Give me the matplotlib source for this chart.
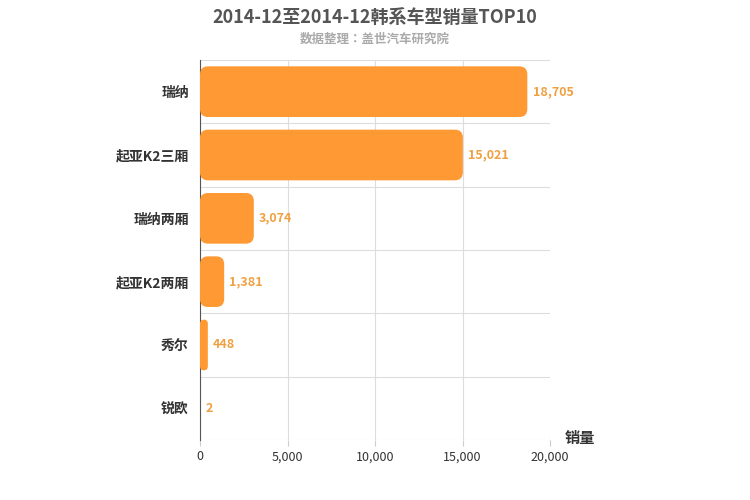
import matplotlib.pyplot as plt
from matplotlib.patches import FancyBboxPatch

plt.rcParams['font.family'] = ['Noto Sans CJK SC', 'Noto Sans CJK JP', 'Noto Sans CJK TC',
                               'Noto Sans CJK KR', 'DejaVu Sans']

models = ['瑞纳', '起亚K2三厢', '瑞纳两厢', '起亚K2两厢', '秀尔', '锐欧']
sales = [18705, 15021, 3074, 1381, 448, 2]
xticks = [0, 5000, 10000, 15000, 20000]

fig = plt.figure(figsize=(7.5, 5), dpi=100)
ax = fig.add_axes([200 / 750, 60 / 500, 350 / 750, 380 / 500])
ax.set_xlim(0, 20000)
ax.set_ylim(len(models) - 0.5, -0.5)

# data units per pixel, used to keep the corners round
ux = 20000 / 350
uy = len(models) / 380
h = 0.8
for i, (name, v) in enumerate(zip(models, sales)):
    r = min(8 * ux, v / 2)
    p = FancyBboxPatch((0, i - h / 2), v, h,
                       boxstyle=f'round,pad=0,rounding_size={r}',
                       mutation_aspect=uy / ux,
                       fc='#FF9933', ec='none', zorder=3)
    ax.add_patch(p)
    ax.text(v + 300, i, f'{v:,}', va='center', ha='left',
            fontsize=9, color='#F0A040', fontweight='bold')

ax.set_yticks(range(len(models)))
ax.set_yticklabels(models, fontsize=10, fontweight='bold', color='#333333')
ax.set_xticks(xticks)
ax.set_xticklabels([f'{t:,}' for t in xticks], fontsize=9, color='#333333')
ax.tick_params(axis='y', length=0, pad=8)
ax.tick_params(axis='x', length=4, color='#cccccc')
for y in [i + 0.5 for i in range(-1, len(models))]:
    ax.axhline(y, color='#dddddd', lw=0.8, zorder=0)
ax.grid(axis='x', color='#dddddd', lw=0.8, zorder=0)
for s in ['top', 'right', 'bottom']:
    ax.spines[s].set_visible(False)
ax.spines['left'].set_color('#555555')

fig.text(0.5, 0.965, '2014-12至2014-12韩系车型销量TOP10', ha='center', va='center',
         fontsize=13, fontweight='bold', color='#555555')
fig.text(0.5, 0.922, '数据整理：盖世汽车研究院', ha='center', va='center',
         fontsize=9, color='#aaaaaa', fontweight='bold')
fig.text(565 / 750, 1 - 438 / 500, '销量', ha='left', va='center',
         fontsize=11, fontweight='bold', color='#333333')

fig.savefig('out.png', dpi=100)
